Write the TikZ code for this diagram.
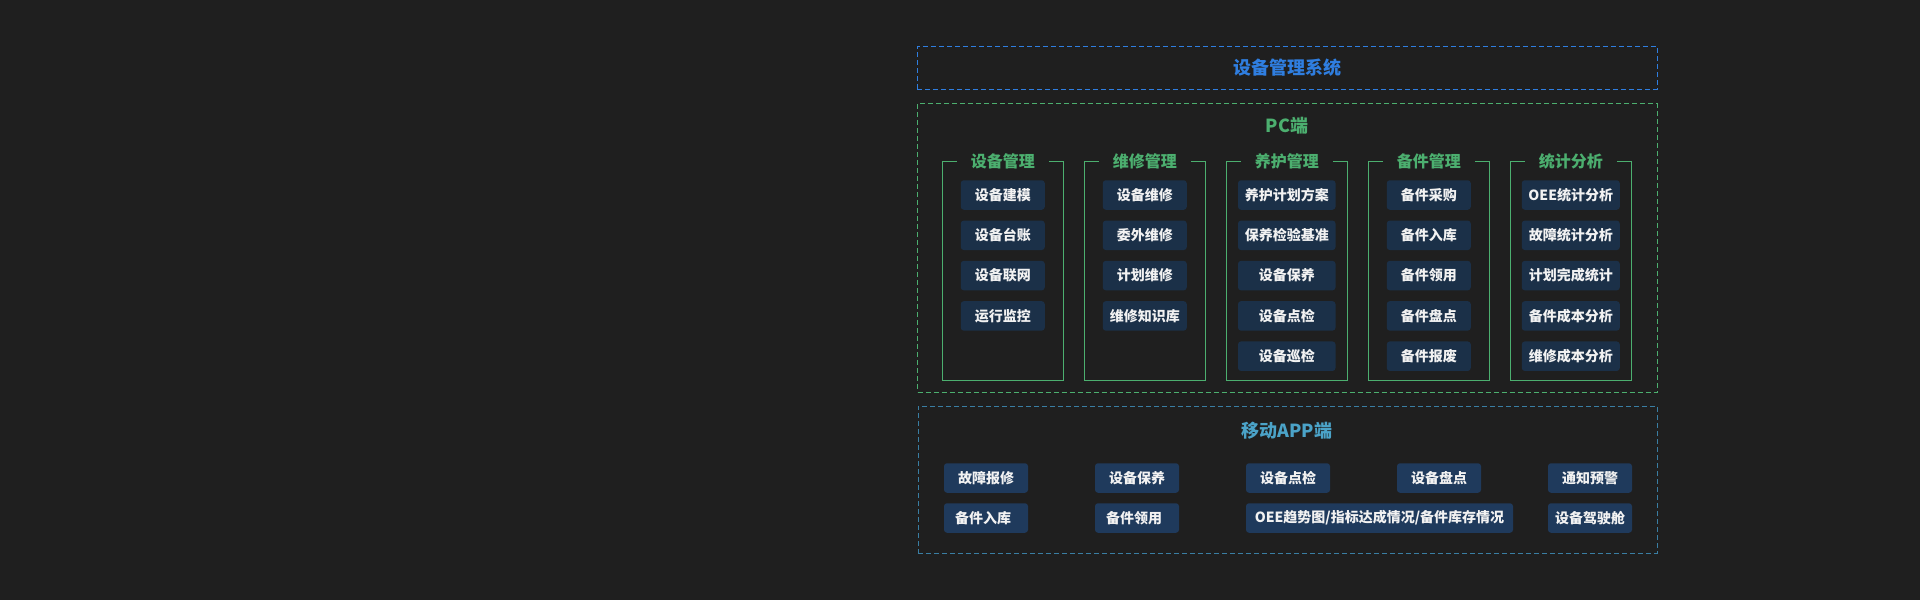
\documentclass[tikz,border=0pt]{standalone}
\usepackage{fontspec}
\setmainfont{Noto Sans CJK SC}
\definecolor{bg}{HTML}{1F1F1F}
\definecolor{sysblue}{HTML}{2F7EE0}
\definecolor{pcgreen}{HTML}{4CAF6F}
\definecolor{appblue}{HTML}{3A7EA3}
\definecolor{apptitle}{HTML}{4BA3C8}
\definecolor{pcfill}{HTML}{1B3048}
\definecolor{appfill}{HTML}{1F3A5C}
\definecolor{itemtext}{HTML}{F2F2F2}
\tikzset{
  dashedframe/.style={draw=#1, line width=1pt, dash pattern=on 5pt off 3pt},
  maintitle/.style={font=\fontsize{18}{20}\selectfont\bfseries, text=#1, inner sep=0pt},
  grptitle/.style={font=\fontsize{16}{18}\selectfont\bfseries, text=pcgreen, inner xsep=14pt, inner ysep=0pt},
  grpframe/.style={draw=pcgreen, line width=1pt},
  pcitem/.style={fill=pcfill, rounded corners=3pt, minimum width=#1, minimum height=29.5pt, inner sep=0pt,
    font=\fontsize{14}{16}\selectfont\bfseries, text=itemtext},
  appitem/.style={fill=appfill, rounded corners=3pt, minimum width=#1, minimum height=29.5pt, inner sep=0pt,
    font=\fontsize{14}{16}\selectfont\bfseries, text=itemtext},
  applabel/.style={font=\fontsize{14}{16}\selectfont\bfseries, text=itemtext, inner sep=0pt, anchor=west},
}
\begin{document}
\begin{tikzpicture}[x=1pt, y=-1pt]
\fill[bg] (0,0) rectangle (1920,600);
\useasboundingbox (0,0) rectangle (1920,600);

% system box
\node[dashedframe=sysblue, minimum width=740pt, minimum height=42.5pt, inner sep=0pt] (sys) at (1287,67.75) {};
\node[maintitle=sysblue] (systitle) at (sys.center) {设备管理系统};

% PC box
\node[dashedframe=pcgreen, minimum width=739.5pt, minimum height=288.5pt, inner sep=0pt] (pc) at (1287.25,247.75) {};
\node[maintitle=pcgreen] (pctitle) at (1287,126) {PC端};

% groups
\foreach \i/\cx/\t in {1/1002.75/设备管理, 2/1144.75/维修管理, 3/1286.75/养护管理, 4/1428.75/备件管理, 5/1570.75/统计分析}{
  \node[grptitle] (g\i) at (\cx,161.5) {\t};
  \draw[grpframe] (g\i.east) -- (\cx+60.75,161.5) -- (\cx+60.75,380.5) -- (\cx-60.75,380.5) -- (\cx-60.75,161.5) -- (g\i.west);
}

% group items
\foreach \j/\t in {1/设备建模, 2/设备台账, 3/设备联网, 4/运行监控}{
  \node[pcitem=84pt] (a\j) at (1002.75, 195+40.3*\j-40.3) {\t};
}
\foreach \j/\t in {1/设备维修, 2/委外维修, 3/计划维修, 4/维修知识库}{
  \node[pcitem=84pt] (b\j) at (1144.75, 195+40.3*\j-40.3) {\t};
}
\foreach \j/\t in {1/养护计划方案, 2/保养检验基准, 3/设备保养, 4/设备点检, 5/设备巡检}{
  \node[pcitem=97.5pt] (c\j) at (1286.75, 195+40.3*\j-40.3) {\t};
}
\foreach \j/\t in {1/备件采购, 2/备件入库, 3/备件领用, 4/备件盘点, 5/备件报废}{
  \node[pcitem=84pt] (d\j) at (1428.75, 195+40.3*\j-40.3) {\t};
}
\foreach \j/\t in {1/OEE统计分析, 2/故障统计分析, 3/计划完成统计, 4/备件成本分析, 5/维修成本分析}{
  \node[pcitem=98pt] (e\j) at (1570.75, 195+40.3*\j-40.3) {\t};
}

% mobile box
\node[dashedframe=appblue, minimum width=739pt, minimum height=147pt, inner sep=0pt] (app) at (1287.5,479.5) {};
\node[maintitle=apptitle] (apptitle) at (1287,431) {移动APP端};

% mobile row 1
\foreach \k/\lx/\t in {1/944/故障报修, 2/1095/设备保养, 3/1246/设备点检, 4/1397/设备盘点, 5/1548/通知预警}{
  \node[appitem=84pt] (m\k) at (\lx+42,478) {\t};
}
% mobile row 2
\node[appitem=84pt] (n1) at (986,518) {};
\node[applabel] (n1t) at ([xshift=11pt]n1.west) {备件入库};
\node[appitem=84pt] (n2) at (1137,518) {};
\node[applabel] (n2t) at ([xshift=11pt]n2.west) {备件领用};
\node[appitem=267pt] (n3) at (1379.5,518) {OEE趋势图/指标达成情况/备件库存情况};
\node[appitem=84pt] (n5) at (1590,518) {设备驾驶舱};
\end{tikzpicture}
\end{document}
